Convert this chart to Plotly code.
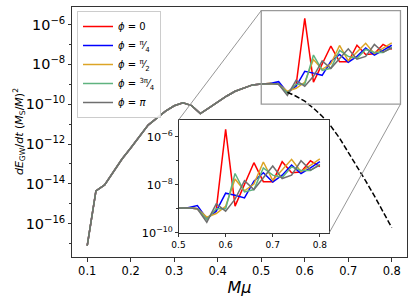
import numpy as np
import plotly.graph_objects as go

# ---------------- data (log10 values) ----------------
mu = [round(0.10 + 0.02 * i, 2) for i in range(36)]

common_log = [-17.1, -14.35, -14.05, -13.4, -12.75, -12.2, -11.6, -11.05, -10.7,
              -10.35, -10.08, -9.93, -10.07, -10.47, -10.18, -9.88, -9.6, -9.35,
              -9.17, -9.03, -8.98, -8.96]          # 0.10 ... 0.52

red_tail = [-9.0, -9.42, -9.05, -5.69, -8.89, -8.0, -7.08, -7.87, -7.87, -7.04, -7.5, -7.47, -7.0, -7.24]
blue_tail = [-8.87, -9.41, -9.1, -8.35, -8.44, -8.55, -7.85, -7.5, -7.89, -7.6, -7.18, -7.53, -7.3, -7.04]
orange_tail = [-9.0, -9.35, -9.2, -8.9, -7.76, -8.25, -7.97, -7.05, -7.82, -7.39, -6.94, -7.46, -7.18, -6.92]
green_tail = [-9.0, -9.45, -9.0, -9.0, -7.53, -8.3, -8.2, -7.3, -7.6, -7.7, -7.25, -7.4, -7.4, -7.15]
grey_tail = [-9.0, -9.56, -8.8, -9.1, -8.6, -7.83, -8.2, -7.7, -7.22, -7.74, -7.6, -7.0, -7.39, -7.18]

fit_mu = [0.56, 0.58, 0.60, 0.62, 0.64, 0.66, 0.68, 0.70, 0.72, 0.74, 0.76, 0.78, 0.80]
fit_log = [-9.4, -9.6, -9.85, -10.2, -10.6, -11.1, -11.7, -12.4, -13.1, -13.85, -14.6, -15.4, -16.2]

labels = ["<i>ϕ</i> = 0", "<i>ϕ</i> = <sup>π</sup>⁄<sub>4</sub>", "<i>ϕ</i> = <sup>π</sup>⁄<sub>2</sub>",
          "<i>ϕ</i> = <sup>3π</sup>⁄<sub>4</sub>", "<i>ϕ</i> = <i>π</i>"]
colors = ["#ff0000", "#0000ff", "#dca425", "#5fb37f", "#6f6f6f"]
tails = [red_tail, blue_tail, orange_tail, green_tail, grey_tail]

ylabel = "<i>dE</i><sub>GW</sub>/<i>dt</i> (<i>M</i><sub>S</sub>/<i>M</i>)<sup>2</sup>"
xlabel = "<i>Mμ</i>"

# ---------------- layout geometry ----------------
W, H = 415, 301
ML, MR, MT, MB = 72, 8, 7, 44
xr_main = [0.065, 0.835]
yr_main = [-17.67, -5.12]
xr_in = [0.5, 0.82]
yr_in = [-10.0, -5.30]
in_dom_x = [0.318, 0.768]
in_dom_y = [0.097, 0.548]


def px(v):   # main data x -> paper
    return (v - xr_main[0]) / (xr_main[1] - xr_main[0])


def py(lv):  # main log10 y -> paper
    return (lv - yr_main[0]) / (yr_main[1] - yr_main[0])


fig = go.Figure()
for lab, col, tail in zip(labels, colors, tails):
    ys = [10 ** v for v in common_log + tail]
    fig.add_trace(go.Scatter(x=mu, y=ys, mode="lines", name=lab,
                             line=dict(color=col, width=1.5), xaxis="x", yaxis="y"))
fig.add_trace(go.Scatter(x=fit_mu, y=[10 ** v for v in fit_log], mode="lines",
                         line=dict(color="black", width=1.5, dash="5.5px,2.4px"),
                         showlegend=False, xaxis="x", yaxis="y"))
for lab, col, tail in zip(labels, colors, tails):
    ys = [10 ** v for v in common_log + tail]
    fig.add_trace(go.Scatter(x=mu, y=ys, mode="lines", name=lab, showlegend=False,
                             line=dict(color=col, width=1.5), xaxis="x2", yaxis="y2"))

axcol = "#333333"
fig.update_layout(
    width=W, height=H,
    margin=dict(l=ML, r=MR, t=MT, b=MB, autoexpand=False),
    paper_bgcolor="white", plot_bgcolor="white",
    font=dict(family="DejaVu Sans", color="black", size=11),
    xaxis=dict(range=xr_main, tick0=0.1, dtick=0.1, showgrid=False, zeroline=False,
               showline=True, mirror=True, linecolor=axcol, linewidth=1,
               ticks="outside", ticklen=3.5, tickcolor=axcol, tickfont=dict(size=11.5),
               title=dict(text=xlabel, font=dict(size=16), standoff=4)),
    yaxis=dict(type="log", range=yr_main, dtick=2, exponentformat="power", showexponent="all",
               showgrid=False, zeroline=False, showline=True, mirror=True,
               linecolor=axcol, linewidth=1, ticks="outside", ticklen=3.5, tickcolor=axcol,
               tickfont=dict(size=11.5),
               minor=dict(dtick=1, ticks="outside", ticklen=2, tickcolor=axcol)),
    xaxis2=dict(domain=in_dom_x, anchor="y2", range=xr_in, tick0=0.5, dtick=0.1,
                showgrid=False, zeroline=False, showline=True, mirror=True,
                linecolor=axcol, linewidth=1, ticks="outside", ticklen=3, tickcolor=axcol,
                tickfont=dict(size=9)),
    yaxis2=dict(domain=in_dom_y, anchor="x2", type="log", range=yr_in, dtick=2,
                exponentformat="power", showexponent="all", showgrid=False, zeroline=False,
                showline=True, mirror=True, linecolor=axcol, linewidth=1, ticks="outside",
                ticklen=3, tickcolor=axcol, tickfont=dict(size=9),
                minor=dict(dtick=1, ticks="outside", ticklen=2, tickcolor=axcol)),
    legend=dict(x=0.015, y=0.984, xanchor="left", yanchor="top",
                bgcolor="rgba(255,255,255,0.85)", bordercolor="#cccccc", borderwidth=1,
                font=dict(size=10), itemwidth=30, tracegroupgap=0),
    showlegend=True,
)

fig.add_annotation(text=ylabel, xref="paper", yref="paper", x=-0.158, y=0.5,
                   xanchor="center", yanchor="middle", textangle=-90, showarrow=False,
                   font=dict(size=11))

# indicator rectangle + connectors (paper coordinates derived from the axis scales)
rx0, rx1 = px(xr_in[0]), px(xr_in[1])
ry0, ry1 = py(yr_in[0]), py(yr_in[1])
fig.add_shape(type="rect", xref="paper", yref="paper", x0=rx0, x1=rx1, y0=ry0, y1=ry1,
              line=dict(color="#9a9a9a", width=1.3))
fig.add_shape(type="line", xref="paper", yref="paper", x0=rx0, y0=ry1,
              x1=in_dom_x[0], y1=in_dom_y[1], line=dict(color="#8a8a8a", width=0.9))
fig.add_shape(type="line", xref="paper", yref="paper", x0=rx1, y0=ry0,
              x1=in_dom_x[1], y1=in_dom_y[0], line=dict(color="#8a8a8a", width=0.9))

fig.write_html("out.html", config={"displayModeBar": False})

# remove the default page margin so the 415x301 figure fills the window exactly
with open("out.html", "r", encoding="utf-8") as f:
    html = f.read()
html = html.replace("<head>", "<head><style>html,body{margin:0;padding:0;overflow:hidden;}</style>", 1)
with open("out.html", "w", encoding="utf-8") as f:
    f.write(html)
